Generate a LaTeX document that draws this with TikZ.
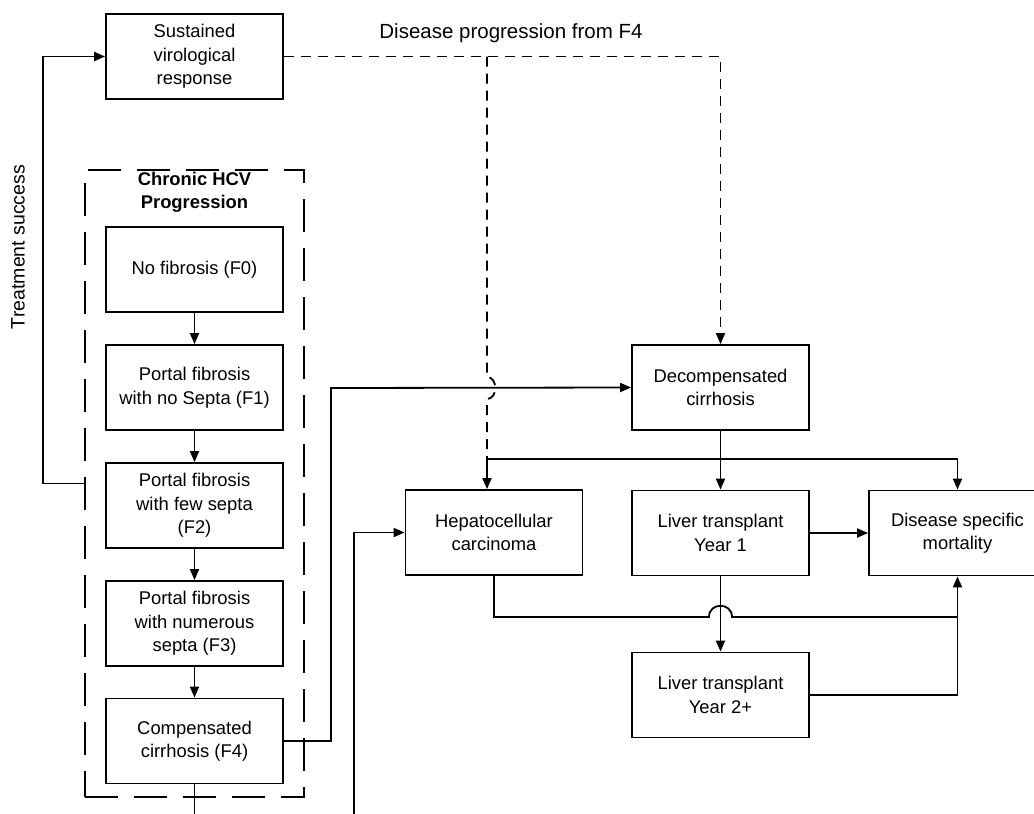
\documentclass[tikz,border=0pt]{standalone}
\usepackage{fontspec}
\setmainfont{Liberation Sans}
\usetikzlibrary{arrows.meta}

\tikzset{
  box/.style={draw, line width=1.8pt, minimum width=177pt, minimum height=85pt, inner sep=0pt, align=center, font=\fontsize{18.4}{23.5}\selectfont},
  ln/.style={line width=1.8pt},
  arr/.style={line width=1.8pt, -{Triangle[length=11pt,width=9pt]}},
  dsh/.style={line width=1.8pt, dash pattern=on 10pt off 7pt},
}

\begin{document}
\begin{tikzpicture}[x=1pt,y=-1pt]
  \useasboundingbox (0,0) rectangle (1034,814);
  \clip (0,0) rectangle (1034,814);
  \node[draw, line width=1.8pt, dash pattern=on 33pt off 16pt, minimum width=219pt, minimum height=627pt] (hcv) at (194.5,483.5) {};
  \node[font=\fontsize{18.4}{23}\selectfont\bfseries, align=center] (hcvtitle) at (194.5,192.5) {Chronic HCV\\Progression};
  \node[font=\fontsize{20.5}{24}\selectfont] (prog) at (511,33) {Disease progression from F4};
  \node[font=\fontsize{19.5}{24}\selectfont, rotate=90] (succ) at (18,247) {Treatment success};

  \node[box] (svr) at (194.5,56.5) {Sustained\\virological\\response};
  \node[box] (f0) at (194.5,269.5) {No fibrosis (F0)};
  \node[box] (f1) at (194.5,387.5) {Portal fibrosis\\with no Septa (F1)};
  \node[box] (f2) at (194.5,505.5) {Portal fibrosis\\with few septa\\(F2)};
  \node[box] (f3) at (194.5,623.5) {Portal fibrosis\\with numerous\\septa (F3)};
  \node[box] (f4) at (194.5,741) {Compensated\\cirrhosis (F4)};
  \node[box] (dc) at (720.5,387.5) {Decompensated\\cirrhosis};
  \node[box] (hcc) at (494,532.5) {Hepatocellular\\carcinoma};
  \node[box] (lt1) at (720.5,533) {Liver transplant\\Year 1};
  \node[box] (dsm) at (957.5,533) {Disease specific\\mortality};
  \node[box] (lt2) at (720.5,695) {Liver transplant\\Year 2+};

  \coordinate (bend) at (331,388);
  \coordinate (f4out) at (194.5,820);
  \coordinate (hccin) at (354,820);
  \coordinate (fork) at (487,56.5);
  \coordinate (hop) at (487,377);
  \coordinate (hopend) at (487,399);
  \coordinate (join) at (487,459);
  \coordinate (split) at (720.5,459);
  \coordinate (jmpL) at (709,617);
  \coordinate (jmpR) at (732,617);
  \coordinate (merge) at (957.5,617);

  \foreach \a/\b in {f0/f1,f1/f2,f2/f3,f3/f4}
    \draw[arr] (\a) -- (\b);
  \draw[arr] (hcv.west) -- ++(-41,0) |- (svr.west);
  \draw[arr] (f4.east) -| (bend) -- (dc.west);
  \draw[ln] (f4) -- (f4out);
  \draw[arr] (hccin) |- (hcc.west);

  \draw[dsh, -{Triangle[length=11pt,width=9pt]}] (svr.east) -| (dc.north);
  \draw[dsh] (fork) -- (hop) .. controls (498,377) and (498,399) .. (hopend) -- (join);

  \draw[arr] (dc) -- (lt1);
  \draw[arr] (split) -| (dsm.north);
  \draw[arr] (split) -- (join) -- (join |- hcc.north);
  \draw[arr] (lt1) -- (dsm);
  \draw[arr] (lt1) -- (lt2);
  \draw[ln] (hcc.south) |- (jmpL) .. controls +(0,-15) and +(0,-15) .. (jmpR) -- (merge);
  \draw[arr] (lt2.east) -| (dsm.south);
\end{tikzpicture}
\end{document}
